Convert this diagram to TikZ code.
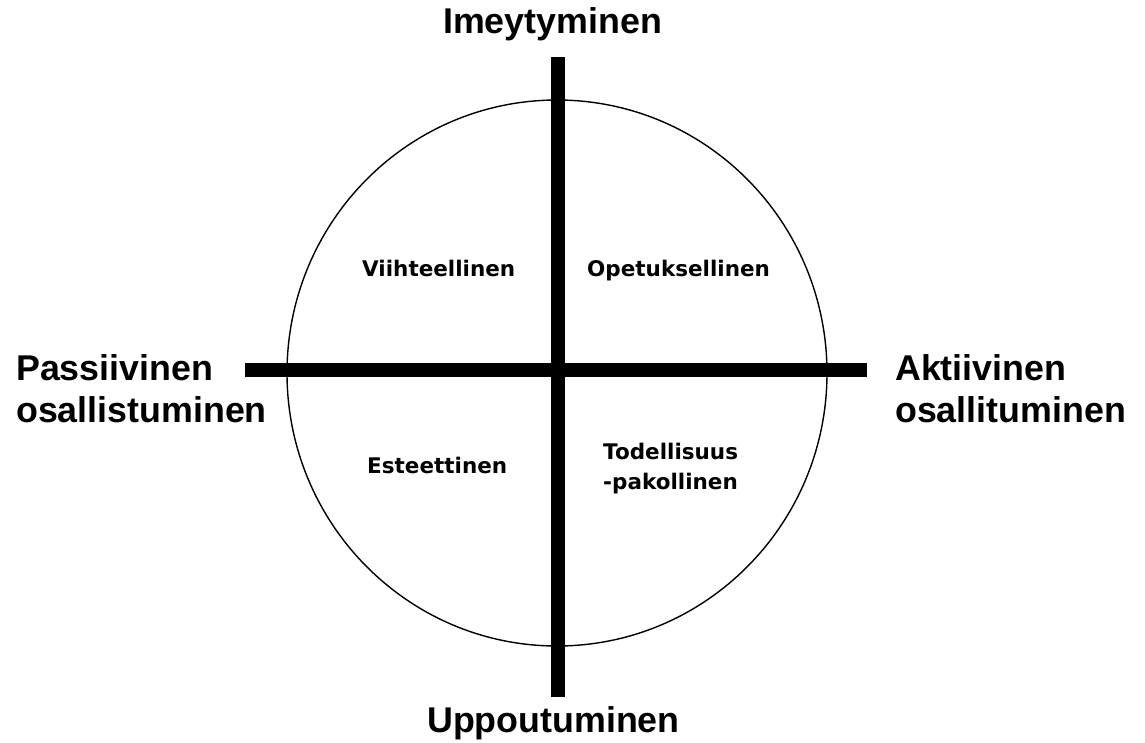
\documentclass[tikz,border=0pt]{standalone}
\usepackage{fontspec}
\setmainfont{Liberation Sans}
\newfontfamily\quadfont{DejaVu Sans}
\begin{document}
\begin{tikzpicture}[x=1pt,y=-1pt,
  axislabel/.style={font=\bfseries\fontsize{35.8}{42}\selectfont, inner sep=0pt, anchor=base west, align=left},
  quadlabel/.style={font=\quadfont\bfseries\fontsize{21.5}{30}\selectfont, inner sep=0pt, anchor=base west, align=left},
  bar/.style={line width=13.5pt, line cap=butt}]
\useasboundingbox (0,0) rectangle (1145,742);
% outer circle
\draw[line width=1.4pt] (557,373) ellipse [x radius=270, y radius=273];
% axes
\coordinate (l) at (245,370);
\coordinate (r) at (867,370);
\coordinate (t) at (558,57);
\coordinate (b) at (558,697);
\draw[bar] (l) -- (r);
\draw[bar] (t) -- (b);
% axis labels
\node[axislabel] (top) at (443,33) {Imeytyminen};
\node[axislabel] (bottom) at (427,732) {Uppoutuminen};
\node[axislabel] (left) at (16,422) {Passiivinen\\osallistuminen};
\node[axislabel] (right) at (895,422) {Aktiivinen\\osallituminen};
% quadrant labels
\node[quadlabel] (q1) at (362,276) {Viihteellinen};
\node[quadlabel] (q2) at (587,276) {Opetuksellinen};
\node[quadlabel] (q3) at (367,473) {Esteettinen};
\node[quadlabel] (q4) at (603,489) {Todellisuus\\-pakollinen};
\end{tikzpicture}
\end{document}
